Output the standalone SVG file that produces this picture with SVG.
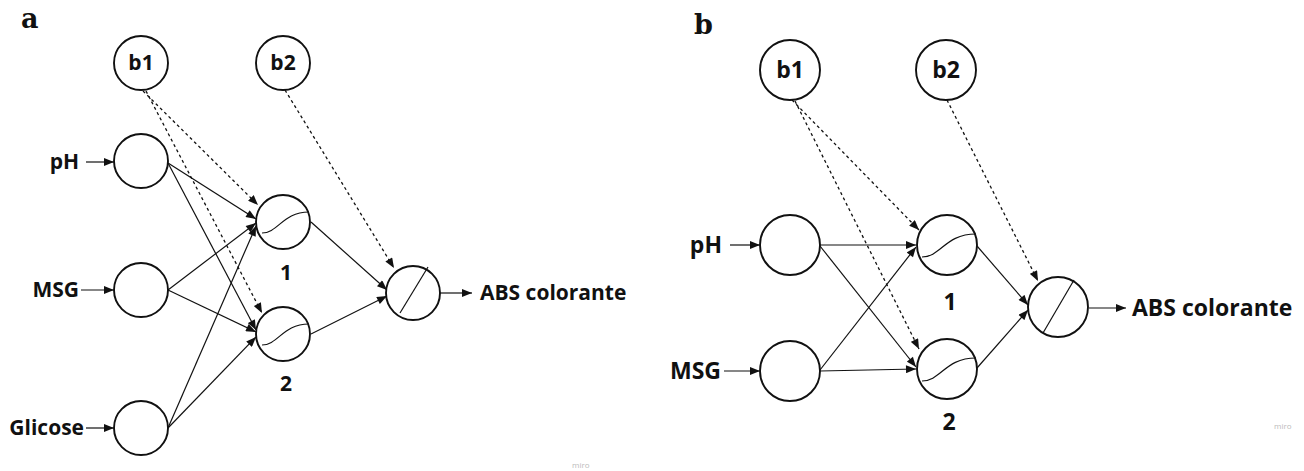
<svg xmlns="http://www.w3.org/2000/svg" width="1304" height="471" viewBox="0 0 1304 471">
<style>
.n{fill:#fff;stroke:#111;stroke-width:1.9}
.c{fill:none;stroke:#111;stroke-width:1.2}
.l{stroke:#111;stroke-width:1.2;fill:none}
.d{stroke:#111;stroke-width:1.3;fill:none;stroke-dasharray:3 3}
.t{font-family:"Open Sans","Noto Sans",sans-serif;font-weight:bold;fill:#111}
.ta{font-size:21px}
.tb{font-size:23px}
.p{font-family:"DejaVu Serif","Liberation Serif",serif;font-weight:bold;font-size:27px;fill:#111}
.w{font-family:"Open Sans",sans-serif;font-size:8px;fill:#bbb}
</style>
<defs>
<marker id="ah" viewBox="0 0 10 8" refX="10" refY="4" markerWidth="11" markerHeight="8" markerUnits="userSpaceOnUse" orient="auto">
<path d="M0,0 L10,4 L0,8 Z" fill="#111"/>
</marker>
</defs>

<text class="p" x="21" y="28">a</text>
<text class="p" x="694" y="34">b</text>

<g id="connectors-a">
<line class="l" x1="86" y1="162" x2="114" y2="162" marker-end="url(#ah)"/>
<line class="l" x1="81" y1="290" x2="114" y2="290" marker-end="url(#ah)"/>
<line class="l" x1="86" y1="428" x2="114" y2="428" marker-end="url(#ah)"/>
<line class="l" x1="168" y1="163" x2="256" y2="219" marker-end="url(#ah)"/>
<line class="l" x1="168" y1="163" x2="256" y2="330" marker-end="url(#ah)"/>
<line class="l" x1="168" y1="290" x2="256" y2="223" marker-end="url(#ah)"/>
<line class="l" x1="168" y1="290" x2="256" y2="332" marker-end="url(#ah)"/>
<line class="l" x1="168" y1="428" x2="256" y2="226" marker-end="url(#ah)"/>
<line class="l" x1="168" y1="428" x2="256" y2="337" marker-end="url(#ah)"/>
<line class="d" x1="143" y1="91" x2="258" y2="205" marker-end="url(#ah)"/>
<line class="d" x1="146" y1="91" x2="262" y2="313" marker-end="url(#ah)"/>
<line class="d" x1="285" y1="90" x2="394" y2="268" marker-end="url(#ah)"/>
<line class="l" x1="311" y1="222" x2="387" y2="290" marker-end="url(#ah)"/>
<line class="l" x1="311" y1="334" x2="387" y2="296" marker-end="url(#ah)"/>
<line class="l" x1="440" y1="293" x2="472" y2="293" marker-end="url(#ah)"/>
</g>

<g id="a-b1"><circle class="n" cx="141" cy="63" r="27"/><text class="t ta" x="141" y="70" text-anchor="middle">b1</text></g>
<g id="a-b2"><circle class="n" cx="283" cy="63" r="27"/><text class="t ta" x="283" y="70" text-anchor="middle">b2</text></g>
<g id="a-ph"><circle class="n" cx="141" cy="161" r="27"/><text class="t ta" x="79" y="169" text-anchor="end">pH</text></g>
<g id="a-msg"><circle class="n" cx="141" cy="290" r="27"/><text class="t ta" x="79" y="297" text-anchor="end">MSG</text></g>
<g id="a-gli"><circle class="n" cx="141" cy="428" r="27"/><text class="t ta" x="84" y="435" text-anchor="end">Glicose</text></g>
<g id="a-h1"><circle class="n" cx="283" cy="222" r="27"/><path class="c" d="M262,233 C278,233 283,212 309,212"/><text class="t ta" x="286" y="280" text-anchor="middle">1</text></g>
<g id="a-h2"><circle class="n" cx="283" cy="334" r="27"/><path class="c" d="M262,345 C278,345 283,324 309,324"/><text class="t ta" x="286" y="391" text-anchor="middle">2</text></g>
<g id="a-out"><circle class="n" cx="413" cy="293" r="27"/><line class="c" x1="400" y1="313" x2="428" y2="267"/><text class="t ta" x="480" y="300">ABS colorante</text></g>

<g id="connectors-b">
<line class="l" x1="730" y1="245" x2="760" y2="245" marker-end="url(#ah)"/>
<line class="l" x1="724" y1="371" x2="760" y2="371" marker-end="url(#ah)"/>
<line class="l" x1="820" y1="245" x2="916" y2="245" marker-end="url(#ah)"/>
<line class="l" x1="820" y1="246" x2="916" y2="367" marker-end="url(#ah)"/>
<line class="l" x1="820" y1="370" x2="916" y2="247" marker-end="url(#ah)"/>
<line class="l" x1="820" y1="371" x2="916" y2="369" marker-end="url(#ah)"/>
<line class="d" x1="792" y1="100" x2="919" y2="230" marker-end="url(#ah)"/>
<line class="d" x1="795" y1="101" x2="919" y2="349" marker-end="url(#ah)"/>
<line class="d" x1="947" y1="100" x2="1038" y2="281" marker-end="url(#ah)"/>
<line class="l" x1="977" y1="246" x2="1028" y2="305" marker-end="url(#ah)"/>
<line class="l" x1="977" y1="368" x2="1028" y2="310" marker-end="url(#ah)"/>
<line class="l" x1="1089" y1="308" x2="1126" y2="308" marker-end="url(#ah)"/>
</g>

<g id="b-b1"><circle class="n" cx="790" cy="70" r="30"/><text class="t tb" x="790" y="78" text-anchor="middle">b1</text></g>
<g id="b-b2"><circle class="n" cx="946" cy="70" r="30"/><text class="t tb" x="946" y="78" text-anchor="middle">b2</text></g>
<g id="b-ph"><circle class="n" cx="790" cy="245" r="30"/><text class="t tb" x="722" y="253" text-anchor="end">pH</text></g>
<g id="b-msg"><circle class="n" cx="790" cy="371" r="30"/><text class="t tb" x="721" y="379" text-anchor="end">MSG</text></g>
<g id="b-h1"><circle class="n" cx="947" cy="245" r="30"/><path class="c" d="M922,257 C941,257 945,234 976,234"/><text class="t tb" x="950" y="310" text-anchor="middle">1</text></g>
<g id="b-h2"><circle class="n" cx="947" cy="369" r="30"/><path class="c" d="M922,381 C941,381 945,358 976,358"/><text class="t tb" x="949" y="430" text-anchor="middle">2</text></g>
<g id="b-out"><circle class="n" cx="1058" cy="307" r="30"/><line class="c" x1="1043" y1="333" x2="1074" y2="280"/><text class="t tb" x="1132" y="316">ABS colorante</text></g>

<text class="w" x="572" y="468">miro</text>
<text class="w" x="1274" y="429">miro</text>
</svg>
